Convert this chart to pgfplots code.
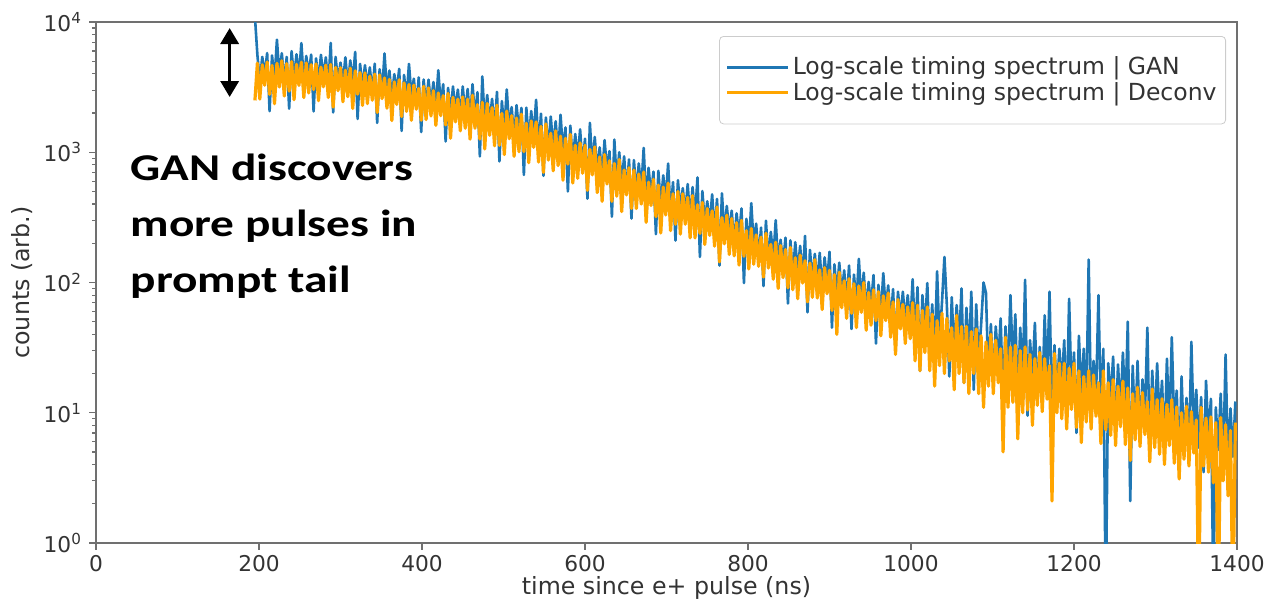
\documentclass[border=0pt]{standalone}
\usepackage{fontspec}
\setmainfont{DejaVu Sans}
\newfontfamily\annfont[FakeStretch=1.25]{Carlito}
\usepackage{pgfplots}
\usepackage{pgfplotstable}
\pgfplotsset{compat=1.18}
\usetikzlibrary{arrows.meta}

\definecolor{ganblue}{HTML}{1F77B4}
\definecolor{decorange}{HTML}{FFA500}
\definecolor{spine}{HTML}{707070}

% timing spectrum, 3 ns bins: x  GAN  Deconv
\pgfplotstableread{
x gan dec
195 11000 2500
198 5610 4830
201 3480 2560
204 5400 4690
207 3900 3270
210 5780 4930
213 2070 2780
216 5530 4640
219 3570 2360
222 7320 4820
225 3890 3170
228 5760 5040
231 3420 2700
234 5400 4790
237 2160 2950
240 5970 4960
243 3690 2530
246 5650 4740
249 3800 3260
252 6880 4920
255 3490 2630
258 5480 4840
261 3920 2850
264 5620 4700
267 2060 3030
270 5260 4770
273 3460 2490
276 5600 4500
279 3740 3180
282 5360 4670
285 3200 2630
288 6910 4720
291 2020 2220
294 5390 4480
297 3440 2970
300 4880 4450
303 3410 2440
306 5360 4260
309 3190 2670
312 5070 4420
315 3410 2170
318 5890 4220
321 1800 2790
324 4770 4090
327 3100 2290
330 4660 4070
333 3190 2360
336 4480 3840
339 2800 2510
342 4780 3980
345 1680 2020
348 4340 3920
351 2860 2580
354 5740 3720
357 2940 2180
360 4240 3630
363 2600 1750
366 3980 3470
369 2920 2330
372 4370 3600
375 1460 1880
378 3920 3410
381 2510 2060
384 4770 3310
387 2710 1760
390 3670 3280
393 2260 2140
396 3760 3090
399 1430 1760
402 3620 3210
405 2270 1780
408 3610 3120
411 2340 1900
414 3460 2970
417 2190 1610
420 4260 2850
423 2290 1910
426 3330 2720
429 1210 1620
432 3120 2830
435 1940 1280
438 3200 2640
441 2100 1710
444 3030 2560
447 1840 1460
450 3200 2660
453 1940 1530
456 3060 2560
459 1760 1260
462 3330 2740
465 1860 1530
468 2890 2320
471 930 1260
474 3820 2420
477 1690 1060
480 2750 2370
483 1680 1350
486 2570 2200
489 1450 1120
492 2910 2300
495 850 1130
498 2470 1990
501 1480 960
504 3030 2070
507 1520 1270
510 2220 1910
513 1260 930
516 2300 1830
519 1440 1010
522 2190 1960
525 670 1010
528 2200 1670
531 1210 830
534 2070 1740
537 1310 1090
540 2530 1710
543 1050 840
546 1980 1580
549 660 700
552 1850 1650
555 1040 870
558 1880 1400
561 1070 720
564 1730 1460
567 970 790
570 1940 1330
573 1010 610
576 1550 1280
579 500 810
582 1600 1370
585 830 580
588 1380 1130
591 890 630
594 1500 1180
597 770 690
600 1270 1130
603 440 510
606 1680 1050
609 770 670
612 1310 1100
615 700 490
618 1090 920
621 640 420
624 1240 960
627 730 570
630 1020 860
633 320 420
636 1250 820
639 590 460
642 1000 880
645 570 350
648 930 730
651 490 470
654 880 760
657 310 370
660 870 730
663 490 370
666 820 680
669 510 400
672 1080 705
675 410 290
678 760 590
681 470 390
684 710 620
687 235 320
690 720 560
693 390 240
696 665 540
699 420 330
702 820 580
705 330 250
708 590 480
711 210 280
714 610 500
717 360 235
720 530 480
723 335 280
726 570 450
729 300 220
732 540 465
735 310 220
738 640 395
741 157 238
744 504 412
747 286 196
750 420 370
753 275 230
756 475 355
759 238 190
762 438 380
765 135 144
768 484 315
771 236 198
774 387 329
777 243 164
780 356 310
783 196 160
786 340 288
789 224 136
792 370 300
795 99 159
798 308 250
801 181 127
804 407 260
807 195 138
810 283 232
813 149 133
816 264 223
819 94 110
822 298 239
825 147 129
828 245 196
831 151 106
834 301 204
837 137 90
840 213 192
843 139 109
846 221 179
849 69 91
852 211 186
855 112 88
858 204 155
861 121 75
864 191 162
867 105 99
870 228 147
873 59 71
876 178 141
879 104 77
882 166 150
885 96 76
888 169 125
891 87 62
894 156 130
897 100 82
900 172 124
903 45 61
906 138 115
909 82 40
912 142 120
915 80 64
918 124 103
921 69 53
924 135 107
927 44 58
930 115 98
933 69 45
936 152 94
939 71 59
942 119 100
945 59 43
948 101 84
951 67 47
954 114 88
957 34 51
960 96 85
963 56 39
966 118 79
969 61 51
972 95 83
975 48 38
978 89 71
981 30 28
984 85 74
987 53 44
990 85 68
993 50 34
996 80 65
999 45 37
1002 106 70
1005 38 25
1008 92 67
1011 21 21
1014 80 61
1017 42 29
1020 99 65
1023 28 21
1026 68 57
1029 27 16
1032 122 51
1035 35 23
1038 70 58
1041 157 20
1044 67 53
1047 19 25
1050 77 45
1053 27 15
1056 67 56
1059 35 20
1062 90 46
1065 17 17
1068 64 46
1071 26 14
1074 85 42
1077 15 20
1080 68 44
1083 26 14
1086 47 39
1089 100 11
1092 83 35
1095 18 16
1098 48 40
1101 17 14
1104 46 36
1107 24 17
1110 53 31
1113 12 5
1116 46 38
1119 19 11
1122 80 32
1125 23 12
1128 57 33
1131 12 6.3
1134 45 30
1137 18 10
1140 105 32
1143 9.5 10.5
1146 36 28
1149 19 8
1152 49 26
1155 13 11.4
1158 32 29
1161 12 10.2
1164 56 26
1167 17.6 12.7
1170 85 23
1173 9 2.1
1176 33 28.5
1179 14 10
1182 31 24
1185 16.6 9
1188 36 24
1191 9 7.5
1194 75 22
1197 13.6 10.6
1200 29 24
1203 7 7.7
1206 39 21
1209 14 5.9
1212 31 19
1215 9.8 8.5
1218 150 21
1221 9 7.5
1224 25 19.5
1227 13 9.4
1230 80 17
1233 10 5.8
1236 31 21
1239 0.3 7.4
1242 24 17
1245 12.3 6.7
1248 27 18
1251 6.7 5.6
1254 23.5 16
1257 10 7.8
1260 29 17.5
1263 10.3 5.7
1266 50 15.5
1269 2.1 4.3
1272 23 14
1275 7.1 6.2
1278 25 15.7
1281 6.6 5.5
1284 18 14.3
1287 9.5 6.8
1290 45 12.2
1293 4.8 4.2
1296 21 15.2
1299 7.4 5.4
1302 24 12.6
1305 8.8 4.8
1308 17.6 12.8
1311 4.8 4
1314 26 11.6
1317 7.2 5.6
1320 38 12.6
1323 7.4 4.1
1326 14.8 11.1
1329 3.7 3.1
1332 19 10
1335 5.1 4.4
1338 13 11.2
1341 4.8 3.9
1344 35 10.2
1347 6.8 4.9
1350 15 8.8
1353 5.4 0.3
1356 13.2 11
1359 3.5 3.9
1362 17.6 9.1
1365 6.4 3.5
1368 12.8 9.3
1371 0.4 2.9
1374 11 8.4
1377 5.2 0.3
1380 14 9.2
1383 4 3
1386 28 8.1
1389 3.8 2.3
1392 10.8 7.3
1395 4.6 0.3
1398 12.2 8.4
}\spectrum

\begin{document}
\begin{tikzpicture}
\begin{axis}[
  scale only axis, width=570.5bp, height=260.5bp,
  xmin=0, xmax=1400, ymin=1, ymax=10000,
  ymode=log,
  xtick={0,200,...,1400},
  ytick={1,10,100,1000,10000},
  yticklabels={10\textsuperscript{0},10\textsuperscript{1},10\textsuperscript{2},10\textsuperscript{3},10\textsuperscript{4}},
  minor ytick={2,3,4,5,6,7,8,9,20,30,40,50,60,70,80,90,200,300,400,500,600,700,800,900,2000,3000,4000,5000,6000,7000,8000,9000},
  tick align=outside, xtick pos=bottom, ytick pos=left,
  major tick length=3.5bp, minor tick length=2bp,
  every tick/.style={spine, line width=0.6bp},
  axis line style={spine, line width=0.8bp},
  ticklabel style={font=\fontsize{10.9}{13}\selectfont, text=black!80},
  xticklabel style={yshift=1bp},
  /pgf/number format/assume math mode=true,
  /pgf/number format/1000 sep={},
  xlabel={time since e+ pulse (ns)}, ylabel={counts (arb.)},
  label style={font=\fontsize{11.9}{14}\selectfont, text=black!80},
  xlabel style={at={([yshift=-22.5bp]axis description cs:0.5,0)}, anchor=center},
  ylabel style={at={([xshift=-37bp]axis description cs:0,0.5)}, anchor=center},
  legend cell align=left,
  legend style={at={(1,1)}, anchor=north east, xshift=-5.5bp, yshift=-7bp,
    draw=black!20, rounded corners=2bp, fill=white,
    font=\fontsize{11.8}{14}\selectfont, text=black!80,
    nodes={inner xsep=1.5bp, inner ysep=1.1bp}, inner xsep=3bp, inner ysep=9.2bp},
  legend image code/.code={\path (0bp,0bp) -- (30.5bp,0bp);
    \draw[#1, line width=0.8bp] (0bp,0bp) -- (23.5bp,0bp);},
]
\addplot[ganblue, line width=1.3bp, line join=round, mark=none] table[x=x, y=gan] {\spectrum};
\addlegendentry{Log-scale timing spectrum | GAN}
\addplot[decorange, line width=1.6bp, line join=round, mark=none] table[x=x, y=dec] {\spectrum};
\addlegendentry{Log-scale timing spectrum | Deconv}

\draw[{Triangle[width=9bp,length=8bp]}-{Triangle[width=9bp,length=8bp]}, line width=1.7bp]
  (axis cs:164,8990) -- (axis cs:164,2655);
\begin{scope}[font=\annfont\bfseries\fontsize{19}{23}\selectfont]
\node[anchor=base west, inner sep=0] at (axis cs:42,612) {GAN discovers};
\node[anchor=base west, inner sep=0] at (axis cs:42,227) {more pulses in};
\node[anchor=base west, inner sep=0] at (axis cs:42,84.5) {prompt tail};
\end{scope}
\end{axis}
\pgfresetboundingbox
\path ([shift={(-48bp,-32.5bp)}]current axis.south west) rectangle ([shift={(16bp,11bp)}]current axis.north east);
\end{tikzpicture}
\end{document}
